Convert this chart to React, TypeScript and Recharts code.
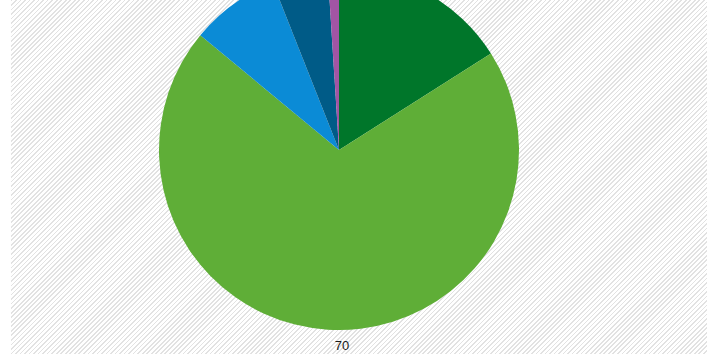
import React from "react";
import { PieChart, Pie, Cell } from "recharts";

const segments = ["A", "B", "C", "D", "E"];
const shares = [16, 70, 8, 5, 1];
const COLORS = ["#00762a", "#5fae37", "#0b8bd6", "#005b87", "#a255a4"];

const data = segments.map((name, i) => ({ name, value: shares[i] }));
const maxValue = Math.max(...shares);

// only the biggest slice shows its label; the others sit above the visible area
const renderLabel = (props: any) => {
  const { cx, cy, outerRadius, value } = props;
  if (value !== maxValue) return null;
  return (
    <text
      x={cx + 3}
      y={cy + outerRadius + 15}
      textAnchor="middle"
      dominantBaseline="central"
      fill="#1a1a1a"
      fontSize={13}
      fontFamily="Liberation Sans, Arial, sans-serif"
    >
      {value}
    </text>
  );
};

export default function App() {
  return (
    <div
      style={{
        position: "absolute",
        left: 0,
        top: 0,
        width: 707,
        height: 354,
        background: "#fff",
        overflow: "hidden",
      }}
    >
      <div
        style={{
          position: "absolute",
          left: 11,
          top: 0,
          width: 696,
          height: 354,
          background:
            "repeating-linear-gradient(-45deg, #ffffff 0px, #ffffff 2px, #e2e2e2 2px, #e2e2e2 3.2px)",
        }}
      />
      <div style={{ position: "absolute", left: 0, top: 0 }}>
        <PieChart
          width={707}
          height={354}
          margin={{ top: 0, right: 0, bottom: 0, left: 0 }}
        >
          <Pie
            data={data}
            dataKey="value"
            nameKey="name"
            cx={339}
            cy={150}
            outerRadius={180}
            startAngle={90}
            endAngle={-270}
            stroke="none"
            label={renderLabel}
            labelLine={false}
            isAnimationActive={false}
          >
            {data.map((_, i) => (
              <Cell key={i} fill={COLORS[i]} />
            ))}
          </Pie>
        </PieChart>
      </div>
    </div>
  );
}
